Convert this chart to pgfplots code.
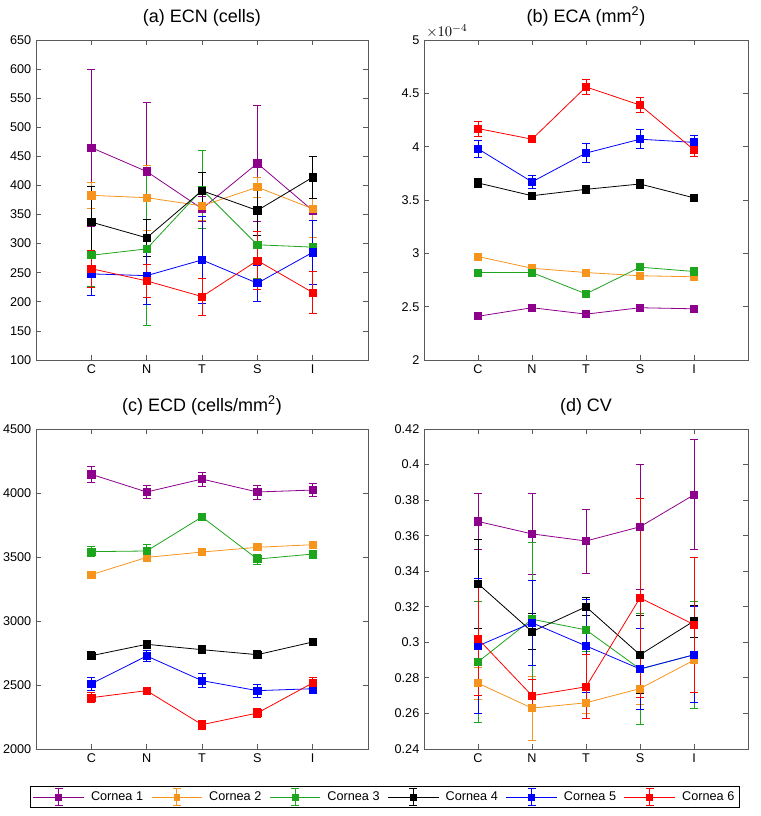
\documentclass[border=0pt]{standalone}
\usepackage{fontspec}
\setmainfont{Liberation Sans}
\usepackage{pgfplots}
\pgfplotsset{compat=1.18}
\definecolor{c1}{RGB}{140,0,140}
\definecolor{c2}{RGB}{247,148,30}
\definecolor{c3}{RGB}{30,165,30}
\definecolor{c4}{RGB}{0,0,0}
\definecolor{c5}{RGB}{0,0,255}
\definecolor{c6}{RGB}{255,0,0}
\definecolor{axgray}{RGB}{90,90,90}
\pgfplotsset{
  panel/.style={
    scale only axis, height=240pt,
    xmin=0, xmax=6, xtick={1,2,3,4,5}, xticklabels={C,N,T,S,I},
    axis line style={axgray, line width=0.6pt},
    tick style={axgray, line width=0.6pt},
    major tick length=4pt,
    tick label style={font=\fontsize{9.5}{11}\selectfont, black},
    title style={font=\fontsize{13.5}{15}\selectfont, yshift=1pt},
    /pgf/number format/assume math mode=true,
    /pgf/number format/1000 sep={},
    clip=false,
  },
  ser/.style={color=#1, line width=0.6pt, mark=square*, mark size=2.7pt,
    mark options={solid, fill=#1},
    error bars/.cd, y dir=both, y explicit,
    error bar style={line width=0.6pt, color=#1},
    error mark options={rotate=90, mark size=3pt, line width=0.6pt, color=#1},
    /pgfplots/.cd},
  leg/.style={color=#1, line width=0.6pt, mark=square*, mark size=2.2pt, mark options={solid, fill=#1}},
}
\begin{document}
\begin{tikzpicture}
\useasboundingbox (0,0) rectangle (570pt,-612pt);
% (a)
\begin{axis}[panel, width=249pt, at={(27pt,-270pt)}, anchor=south west,
  ymin=100, ymax=650, ytick={100,150,...,650}, scaled y ticks=false,
  title={(a) ECN (cells)}]
\addplot[ser=c1] coordinates {(1,465) +- (0,135) (2,424) +- (0,118) (3,360) +- (0,21) (4,438) +- (0,100) (5,357) +- (0,4)};
\addplot[ser=c2] coordinates {(1,383) +- (0,22) (2,379) +- (0,56) (3,365) +- (0,25) (4,397) +- (0,17) (5,360) +- (0,50)};
\addplot[ser=c3] coordinates {(1,280) +- (0,53) (2,291) +- (0,131) (3,393) +- (0,67) (4,298) +- (0,57) (5,294) +- (0,6)};
\addplot[ser=c4] coordinates {(1,337) +- (0,62) (2,310) +- (0,32) (3,391) +- (0,31) (4,357) +- (0,42) (5,414) +- (0,36)};
\addplot[ser=c5] coordinates {(1,248) +- (0,37) (2,245) +- (0,50) (3,272) +- (0,75) (4,232) +- (0,31) (5,285) +- (0,55)};
\addplot[ser=c6] coordinates {(1,257) +- (0,32) (2,236) +- (0,28) (3,209) +- (0,32) (4,271) +- (0,50) (5,216) +- (0,36)};
\end{axis}
% (b)
\begin{axis}[panel, width=243pt, at={(318pt,-270pt)}, anchor=south west,
  ymin=2e-4, ymax=5e-4, ytick={2e-4,2.5e-4,3e-4,3.5e-4,4e-4,4.5e-4,5e-4},
  scaled y ticks=base 10:4, tick scale binop=\times,
  every y tick scale label/.style={at={(rel axis cs:0,1)}, anchor=south west, inner sep=1.5pt, font=\fontsize{11}{12}\selectfont},
  title={(b) ECA (mm\textsuperscript{2})}]
\addplot[ser=c1] coordinates {(1,2.41e-4) +- (0,0.02e-4) (2,2.49e-4) +- (0,0.02e-4) (3,2.43e-4) +- (0,0.02e-4) (4,2.49e-4) +- (0,0.02e-4) (5,2.48e-4) +- (0,0.02e-4)};
\addplot[ser=c2] coordinates {(1,2.97e-4) +- (0,0.01e-4) (2,2.86e-4) +- (0,0.01e-4) (3,2.82e-4) +- (0,0.01e-4) (4,2.79e-4) +- (0,0.01e-4) (5,2.78e-4) +- (0,0.01e-4)};
\addplot[ser=c3] coordinates {(1,2.82e-4) +- (0,0.02e-4) (2,2.82e-4) +- (0,0.03e-4) (3,2.62e-4) +- (0,0.02e-4) (4,2.87e-4) +- (0,0.03e-4) (5,2.83e-4) +- (0,0.02e-4)};
\addplot[ser=c4] coordinates {(1,3.66e-4) +- (0,0.04e-4) (2,3.54e-4) +- (0,0.03e-4) (3,3.60e-4) +- (0,0.03e-4) (4,3.65e-4) +- (0,0.04e-4) (5,3.52e-4) +- (0,0.03e-4)};
\addplot[ser=c5] coordinates {(1,3.98e-4) +- (0,0.08e-4) (2,3.67e-4) +- (0,0.06e-4) (3,3.94e-4) +- (0,0.09e-4) (4,4.07e-4) +- (0,0.09e-4) (5,4.04e-4) +- (0,0.07e-4)};
\addplot[ser=c6] coordinates {(1,4.17e-4) +- (0,0.07e-4) (2,4.07e-4) +- (0,0.03e-4) (3,4.56e-4) +- (0,0.07e-4) (4,4.39e-4) +- (0,0.07e-4) (5,3.97e-4) +- (0,0.06e-4)};
\end{axis}
% (c)
\begin{axis}[panel, width=249pt, at={(27pt,-561.75pt)}, anchor=south west,
  ymin=2000, ymax=4500, ytick={2000,2500,...,4500}, scaled y ticks=false,
  title={(c) ECD (cells/mm\textsuperscript{2})},
  legend columns=6,
  legend style={at={(1.051,-0.15)}, anchor=center, draw=black, line width=0.6pt,
    font=\fontsize{9.5}{11}\selectfont, inner xsep=2pt, inner ysep=1pt,
    /tikz/every odd column/.append style={column sep=3pt},
    /tikz/every even column/.append style={column sep=4pt}},
  legend image code/.code={%
    \draw[#1,mark=none] (0pt,0pt) -- (38pt,0pt);
    \draw[#1,mark=none] (19pt,-6.5pt) -- (19pt,6.5pt);
    \draw[#1,mark=none] (16pt,-6.5pt) -- (22pt,-6.5pt);
    \draw[#1,mark=none] (16pt,6.5pt) -- (22pt,6.5pt);
    \draw[#1,draw=none] plot coordinates {(19pt,0pt)};
  }]
\addlegendimage{leg=c1}\addlegendentry{Cornea 1}
\addlegendimage{leg=c2}\addlegendentry{Cornea 2}
\addlegendimage{leg=c3}\addlegendentry{Cornea 3}
\addlegendimage{leg=c4}\addlegendentry{Cornea 4}
\addlegendimage{leg=c5}\addlegendentry{Cornea 5}
\addlegendimage{leg=c6}\addlegendentry{Cornea 6}
\addplot[forget plot, ser=c1] coordinates {(1,4146) +- (0,60) (2,4008) +- (0,50) (3,4109) +- (0,55) (4,4008) +- (0,55) (5,4023) +- (0,50)};
\addplot[forget plot, ser=c2] coordinates {(1,3362) +- (0,20) (2,3497) +- (0,20) (3,3539) +- (0,15) (4,3576) +- (0,25) (5,3596) +- (0,20)};
\addplot[forget plot, ser=c3] coordinates {(1,3542) +- (0,40) (2,3547) +- (0,50) (3,3813) +- (0,30) (4,3484) +- (0,40) (5,3523) +- (0,30)};
\addplot[forget plot, ser=c4] coordinates {(1,2729) +- (0,30) (2,2818) +- (0,30) (3,2776) +- (0,30) (4,2737) +- (0,30) (5,2836) +- (0,30)};
\addplot[forget plot, ser=c5] coordinates {(1,2510) +- (0,50) (2,2727) +- (0,45) (3,2534) +- (0,55) (4,2456) +- (0,50) (5,2471) +- (0,35)};
\addplot[forget plot, ser=c6] coordinates {(1,2401) +- (0,40) (2,2456) +- (0,15) (3,2190) +- (0,35) (4,2281) +- (0,35) (5,2516) +- (0,40)};
\end{axis}
% (d)
\begin{axis}[panel, width=243pt, at={(318pt,-561.75pt)}, anchor=south west,
  ymin=0.24, ymax=0.42, ytick={0.24,0.26,0.28,0.30,0.32,0.34,0.36,0.38,0.40,0.42},
  scaled y ticks=false,
  title={(d) CV}]
\addplot[ser=c1] coordinates {(1,0.368) +- (0,0.016) (2,0.361) +- (0,0.023) (3,0.357) +- (0,0.018) (4,0.365) +- (0,0.035) (5,0.383) +- (0,0.031)};
\addplot[ser=c2] coordinates {(1,0.277) +- (0,0.009) (2,0.263) +- (0,0.018) (3,0.266) +- (0,0.006) (4,0.274) +- (0,0.009) (5,0.290) +- (0,0.002)};
\addplot[ser=c3] coordinates {(1,0.289) +- (0,0.034) (2,0.313) +- (0,0.043) (3,0.307) +- (0,0.012) (4,0.285) +- (0,0.031) (5,0.293) +- (0,0.030)};
\addplot[ser=c4] coordinates {(1,0.333) +- (0,0.025) (2,0.306) +- (0,0.010) (3,0.320) +- (0,0.005) (4,0.293) +- (0,0.022) (5,0.312) +- (0,0.009)};
\addplot[ser=c5] coordinates {(1,0.298) +- (0,0.038) (2,0.311) +- (0,0.024) (3,0.298) +- (0,0.026) (4,0.285) +- (0,0.023) (5,0.293) +- (0,0.027)};
\addplot[ser=c6] coordinates {(1,0.302) +- (0,0.032) (2,0.270) +- (0,0.009) (3,0.275) +- (0,0.018) (4,0.325) +- (0,0.056) (5,0.310) +- (0,0.038)};
\end{axis}
\end{tikzpicture}
\end{document}
